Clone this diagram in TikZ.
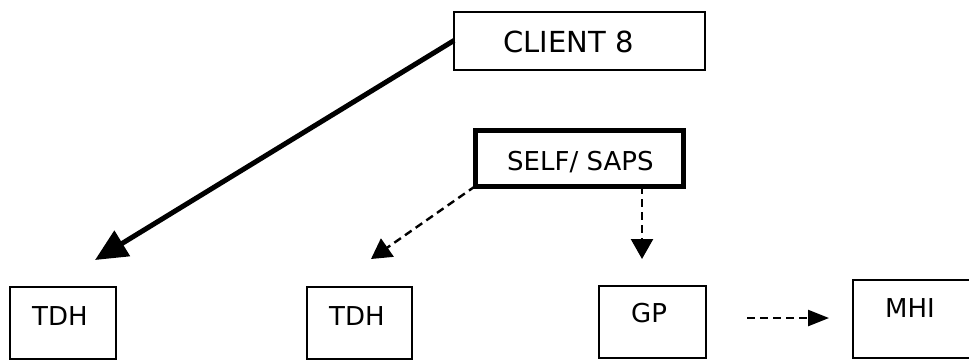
\documentclass[tikz,border=0pt]{standalone}
\usepackage{fontspec}
\setmainfont{DejaVu Sans}
\usetikzlibrary{arrows.meta}

\begin{document}
\begin{tikzpicture}[x=1pt,y=-1pt,
  box/.style={draw, line width=2pt, rectangle, inner sep=0pt, outer sep=0pt, anchor=north west},
  word/.style={anchor=base west, inner sep=0pt, font=\fontsize{26}{30}\selectfont},
  dasharrow/.style={line width=2.4pt, dash pattern=on 8pt off 5pt, -{Triangle[length=20pt,width=22pt]}}]
\useasboundingbox (0,0) rectangle (969,360);

% boxes
\node[box, minimum width=250.5pt, minimum height=58pt] (client) at (454,11.5) {};
\node[box, line width=5pt, minimum width=207.5pt, minimum height=55.5pt] (self) at (475.5,130.5) {};
\node[box, minimum width=106pt, minimum height=71.5pt] (tdhA) at (10,287) {};
\node[box, minimum width=104.5pt, minimum height=71.5pt] (tdhB) at (307,287) {};
\node[box, minimum width=107pt, minimum height=71.5pt] (gp) at (598.5,286) {};
\node[box, minimum width=130pt, minimum height=78pt] (mhi) at (853,280) {};

% texts
\node[word, font=\fontsize{29}{34}\selectfont] (clientword) at (503,52) {CLIENT 8};
\node[word] (selfword) at (507,170) {SELF/ SAPS};
\node[word] (tdhAword) at (32,325) {TDH};
\node[word] (tdhBword) at (329,325) {TDH};
\node[word] (gpword) at (631,322) {GP};
\node[word] (mhiword) at (885,317) {MHI};

% arrow ends
\coordinate (tipA) at (95,260);
\coordinate (tipB) at (371,259);
\coordinate (tipGP) at (642,259);
\coordinate (startMHI) at (747,318);
\coordinate (tipMHI) at (829,318);

\draw[line width=5pt, -{Triangle[length=32pt,width=29pt]}] (client.west) -- (tipA);
\draw[dasharrow] (self.south west) -- (tipB);
\draw[dasharrow] (self.south -| tipGP) -- (tipGP);
\draw[dasharrow, -{Triangle[length=21pt,width=16pt]}] (startMHI) -- (tipMHI);
\end{tikzpicture}
\end{document}
